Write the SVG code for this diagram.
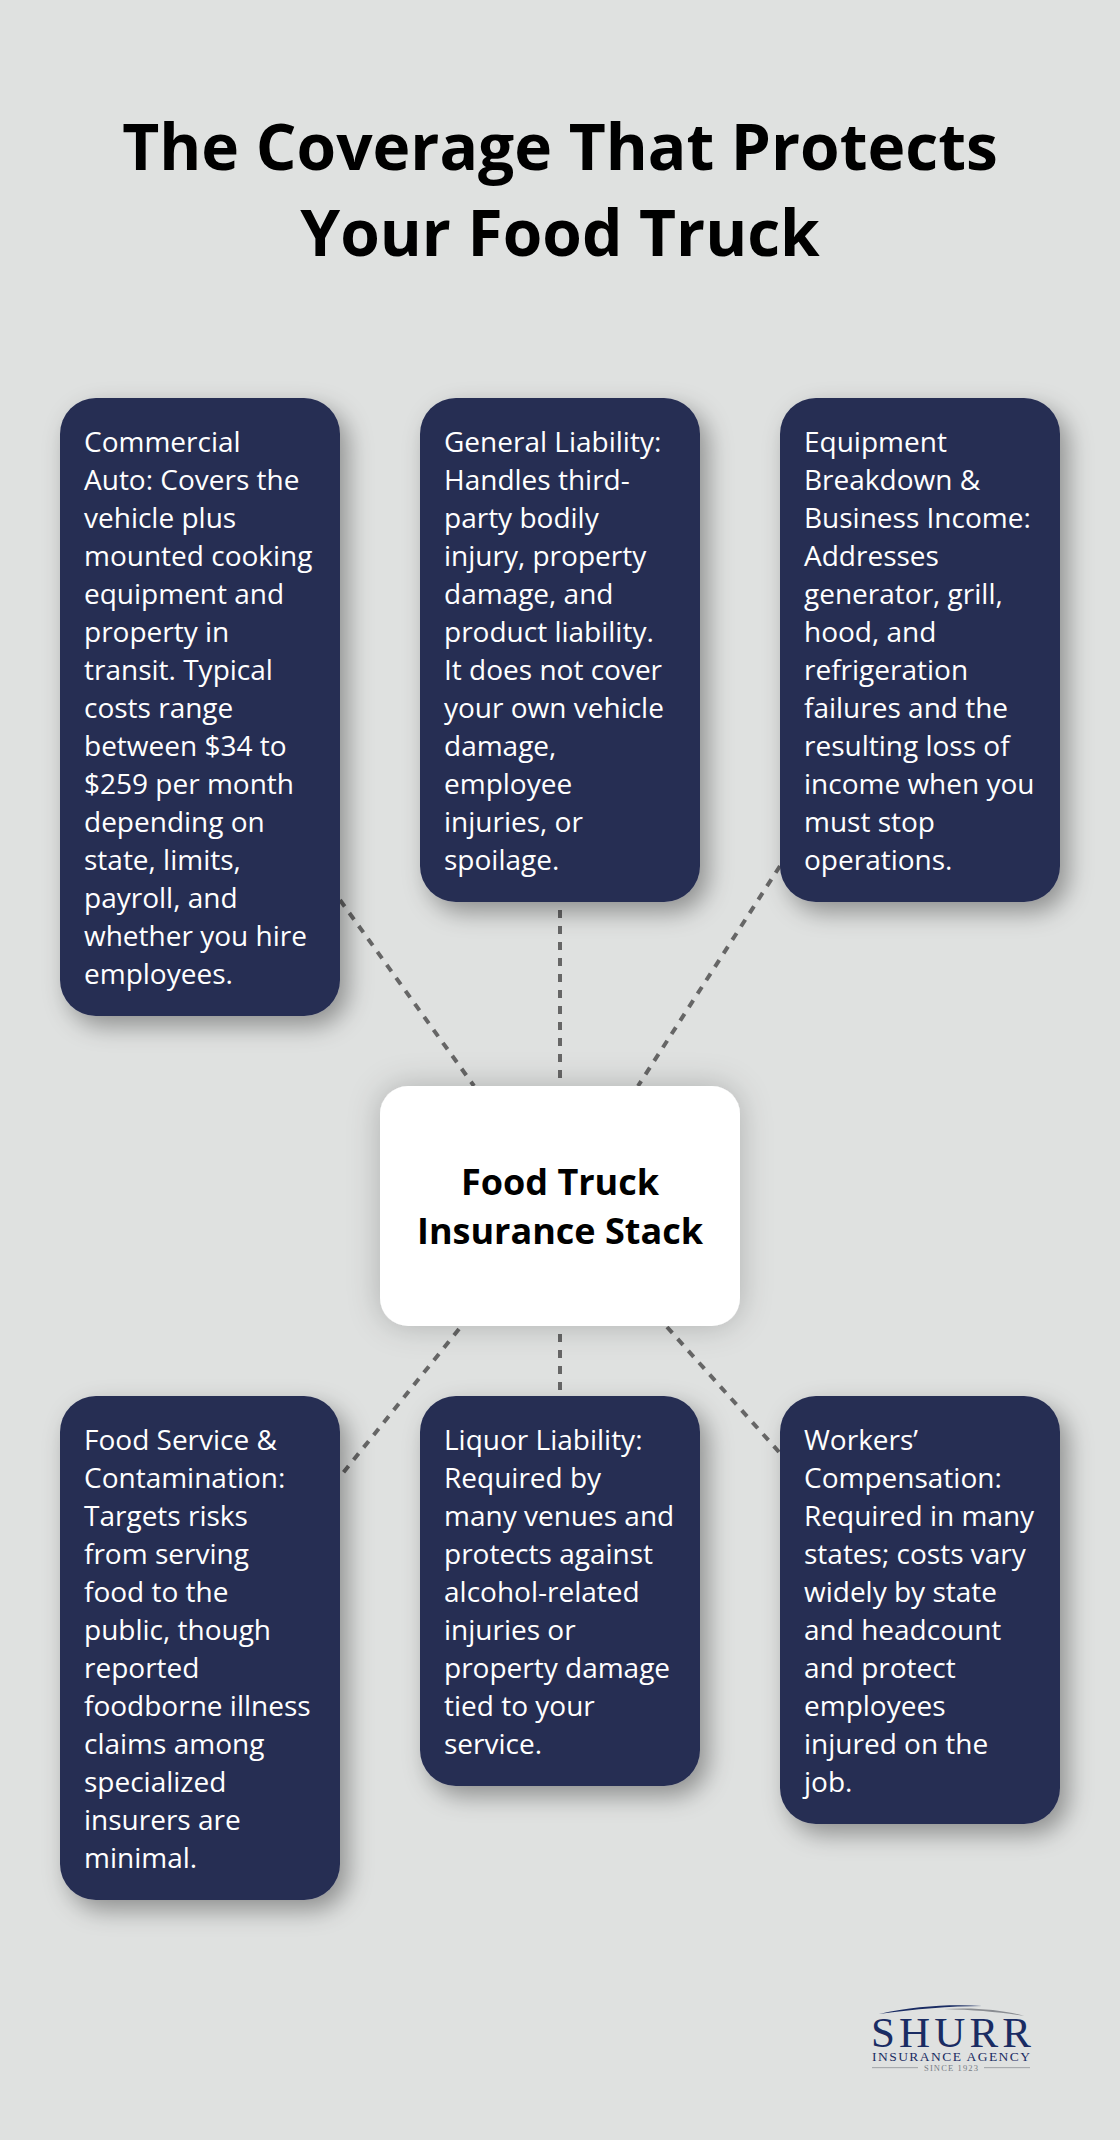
<svg xmlns="http://www.w3.org/2000/svg" width="1120" height="2140" viewBox="0 0 1120 2140">
<defs>
<style>
.card{fill:#262d53;filter:url(#sh)}
.t{font-family:"Open Sans",sans-serif;font-size:28px;fill:#fff}
.title{font-family:"Open Sans",sans-serif;font-size:64px;font-weight:700;fill:#000;text-anchor:middle}
.ctr{font-family:"Open Sans",sans-serif;font-size:36px;font-weight:700;fill:#000;text-anchor:middle}
.c{stroke:#666;stroke-width:4;stroke-dasharray:8 8;fill:none}
.lg{font-family:"Liberation Serif",serif;fill:#1a2c63;text-anchor:start}
</style>
<filter id="sh" x="-30%" y="-30%" width="160%" height="160%"><feDropShadow dx="8" dy="10" stdDeviation="12" flood-color="#000" flood-opacity="0.36"/></filter>
<filter id="sh2" x="-30%" y="-30%" width="160%" height="160%"><feDropShadow dx="0" dy="0" stdDeviation="16" flood-color="#000" flood-opacity="0.22"/></filter>
</defs>
<rect width="1120" height="2140" fill="#dfe1e0"/>
<g id="title"><text class="title" x="560" y="170">The Coverage That Protects</text><text class="title" x="560" y="256">Your Food Truck</text></g>
<g id="connectors">
<line class="c" x1="560" y1="910" x2="560" y2="1078"/>
<line class="c" x1="340" y1="900" x2="474" y2="1086"/>
<line class="c" x1="780" y1="866" x2="638" y2="1086"/>
<line class="c" x1="560" y1="1334" x2="560" y2="1390"/>
<line class="c" x1="459" y1="1329" x2="343" y2="1473"/>
<line class="c" x1="667" y1="1327" x2="779" y2="1452"/>
</g>
<g id="node-commercial"><rect class="card" x="60" y="398" width="280" height="618" rx="36"/>
<text class="t"><tspan x="84" y="452">Commercial</tspan><tspan x="84" y="490">Auto: Covers the</tspan><tspan x="84" y="528">vehicle plus</tspan><tspan x="84" y="566">mounted cooking</tspan><tspan x="84" y="604">equipment and</tspan><tspan x="84" y="642">property in</tspan><tspan x="84" y="680">transit. Typical</tspan><tspan x="84" y="718">costs range</tspan><tspan x="84" y="756">between $34 to</tspan><tspan x="84" y="794">$259 per month</tspan><tspan x="84" y="832">depending on</tspan><tspan x="84" y="870">state, limits,</tspan><tspan x="84" y="908">payroll, and</tspan><tspan x="84" y="946">whether you hire</tspan><tspan x="84" y="984">employees.</tspan></text></g>
<g id="node-general"><rect class="card" x="420" y="398" width="280" height="504" rx="36"/>
<text class="t"><tspan x="444" y="452">General Liability:</tspan><tspan x="444" y="490">Handles third-</tspan><tspan x="444" y="528">party bodily</tspan><tspan x="444" y="566">injury, property</tspan><tspan x="444" y="604">damage, and</tspan><tspan x="444" y="642">product liability.</tspan><tspan x="444" y="680">It does not cover</tspan><tspan x="444" y="718">your own vehicle</tspan><tspan x="444" y="756">damage,</tspan><tspan x="444" y="794">employee</tspan><tspan x="444" y="832">injuries, or</tspan><tspan x="444" y="870">spoilage.</tspan></text></g>
<g id="node-equipment"><rect class="card" x="780" y="398" width="280" height="504" rx="36"/>
<text class="t"><tspan x="804" y="452">Equipment</tspan><tspan x="804" y="490">Breakdown &amp;</tspan><tspan x="804" y="528">Business Income:</tspan><tspan x="804" y="566">Addresses</tspan><tspan x="804" y="604">generator, grill,</tspan><tspan x="804" y="642">hood, and</tspan><tspan x="804" y="680">refrigeration</tspan><tspan x="804" y="718">failures and the</tspan><tspan x="804" y="756">resulting loss of</tspan><tspan x="804" y="794">income when you</tspan><tspan x="804" y="832">must stop</tspan><tspan x="804" y="870">operations.</tspan></text></g>
<g id="node-center"><rect x="380" y="1086" width="360" height="240" rx="28" fill="#fff" filter="url(#sh2)"/>
<text class="ctr"><tspan x="560" y="1195">Food Truck</tspan><tspan x="560" y="1244">Insurance Stack</tspan></text></g>
<g id="node-food"><rect class="card" x="60" y="1396" width="280" height="504" rx="36"/>
<text class="t"><tspan x="84" y="1450">Food Service &amp;</tspan><tspan x="84" y="1488">Contamination:</tspan><tspan x="84" y="1526">Targets risks</tspan><tspan x="84" y="1564">from serving</tspan><tspan x="84" y="1602">food to the</tspan><tspan x="84" y="1640">public, though</tspan><tspan x="84" y="1678">reported</tspan><tspan x="84" y="1716">foodborne illness</tspan><tspan x="84" y="1754">claims among</tspan><tspan x="84" y="1792">specialized</tspan><tspan x="84" y="1830">insurers are</tspan><tspan x="84" y="1868">minimal.</tspan></text></g>
<g id="node-liquor"><rect class="card" x="420" y="1396" width="280" height="390" rx="36"/>
<text class="t"><tspan x="444" y="1450">Liquor Liability:</tspan><tspan x="444" y="1488">Required by</tspan><tspan x="444" y="1526">many venues and</tspan><tspan x="444" y="1564">protects against</tspan><tspan x="444" y="1602">alcohol-related</tspan><tspan x="444" y="1640">injuries or</tspan><tspan x="444" y="1678">property damage</tspan><tspan x="444" y="1716">tied to your</tspan><tspan x="444" y="1754">service.</tspan></text></g>
<g id="node-workers"><rect class="card" x="780" y="1396" width="280" height="428" rx="36"/>
<text class="t"><tspan x="804" y="1450">Workers’</tspan><tspan x="804" y="1488">Compensation:</tspan><tspan x="804" y="1526">Required in many</tspan><tspan x="804" y="1564">states; costs vary</tspan><tspan x="804" y="1602">widely by state</tspan><tspan x="804" y="1640">and headcount</tspan><tspan x="804" y="1678">and protect</tspan><tspan x="804" y="1716">employees</tspan><tspan x="804" y="1754">injured on the</tspan><tspan x="804" y="1792">job.</tspan></text></g>
<g id="logo">
<path d="M879 2014C915 2006 950 2004 982 2006C950 2006 915 2009 879 2014Z" fill="#1a2c63"/>
<path d="M944 2009C975 2007 1005 2010 1024 2016C1000 2012 975 2010 944 2009Z" fill="#8a8d92"/>
<text class="lg" x="871" y="2047" font-size="43" textLength="160" lengthAdjust="spacing">SHURR</text>
<text class="lg" x="872" y="2061" font-size="13.5" textLength="158" lengthAdjust="spacing">INSURANCE AGENCY</text>
<text class="lg" x="924" y="2071" font-size="8.5" textLength="54" lengthAdjust="spacing" style="fill:#777c85">SINCE 1923</text>
<rect x="872" y="2067" width="46" height="1.2" fill="#a8abae"/><rect x="984" y="2067" width="46" height="1.2" fill="#a8abae"/>
</g>
</svg>
